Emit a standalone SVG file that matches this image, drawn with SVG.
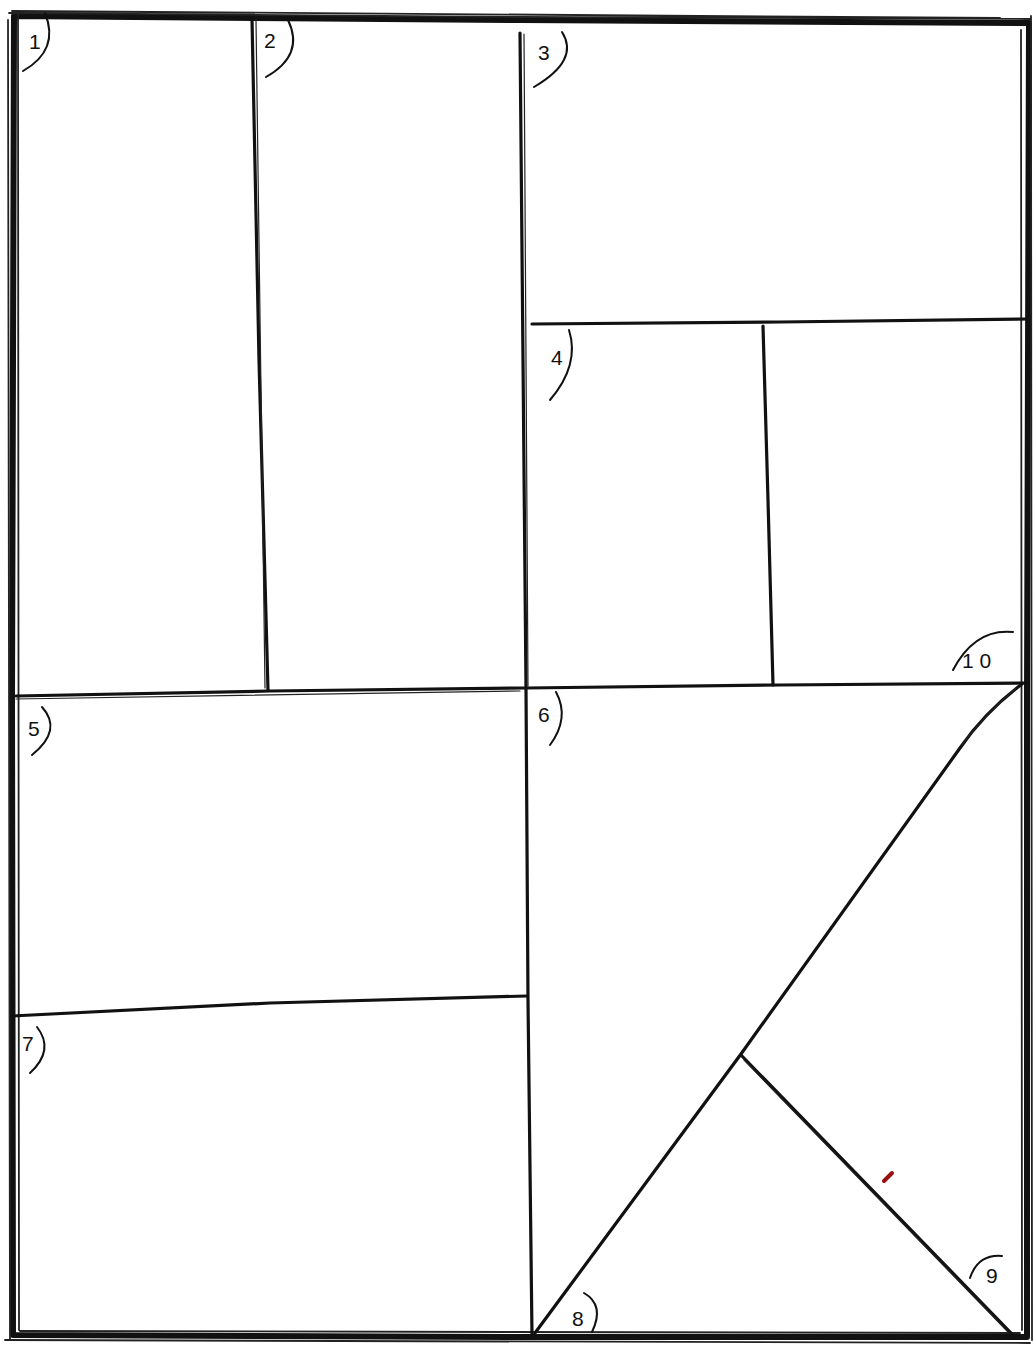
<svg xmlns="http://www.w3.org/2000/svg" width="1034" height="1346" viewBox="0 0 1034 1346">
<style>
.frame{fill:none;stroke:#111;stroke-width:6;stroke-linejoin:round;stroke-linecap:round}
.frame2{fill:none;stroke:#222;stroke-width:1.8;stroke-linecap:round}
.div{fill:none;stroke:#111;stroke-width:3.2;stroke-linecap:round}
.div2{fill:none;stroke:#222;stroke-width:1.2;stroke-linecap:round}
.arc{fill:none;stroke:#111;stroke-width:2;stroke-linecap:round}
.num{font-family:"Liberation Sans",Arial,sans-serif;font-size:21px;fill:#111}
</style>
<rect width="1034" height="1346" fill="#fff"/>
<g id="frame">
<path class="frame" d="M14,16 L520,20 L1029,23 L1027,700 L1027,1337 L520,1337 L13,1335 L12,700 Z"/>
<path class="frame2" d="M9,13 L520,17 L1031,19 M18,12 L19,1330 M8,20 L10,1340 M1031,16 L1032,1340 M1021,30 L1022,1330 M5,1340 L1030,1343 M20,1331 L1020,1333 M12,11 L1000,18"/>
</g>
<g id="dividers">
<path class="div" d="M252,19 L259,360 L268,690"/>
<path class="div2" d="M256,20 L265,688"/>
<path class="div" d="M520,33 L523,360 L526,688 L528,1000 L532,1336"/>
<path class="div2" d="M524,34 L528,686"/>
<path class="div" d="M532,324 L780,322 L1028,319"/>
<path class="div" d="M763,326 L768,500 L773,685"/>
<path class="div" d="M16,696 L270,691 L526,688 L780,685 L1025,683"/>
<path class="div2" d="M16,699 L520,691"/>
<path class="div" d="M12,1016 L270,1003 L527,996"/>
<path class="div" d="M1022,684 Q985,712 960,748 L741,1054 L535,1333"/>
<path class="div2" d="M1016,688 Q980,720 962,745"/>
<path class="div" d="M741,1055 L1012,1334"/>
<path class="div2" d="M744,1060 L1008,1332"/>
<path d="M884,1181 L892,1173" stroke="#9a1010" stroke-width="4" stroke-linecap="round"/>
</g>
<g id="labels">
<g id="p1"><text class="num" x="29" y="49">1</text><path class="arc" d="M45,13 Q60,50 23,71"/></g>
<g id="p2"><text class="num" x="264" y="48">2</text><path class="arc" d="M288,20 Q305,55 266,77"/></g>
<g id="p3"><text class="num" x="538" y="60">3</text><path class="arc" d="M562,32 Q580,60 534,87"/></g>
<g id="p4"><text class="num" x="551" y="365">4</text><path class="arc" d="M569,330 Q580,365 550,400"/></g>
<g id="p5"><text class="num" x="28" y="736">5</text><path class="arc" d="M42,707 Q63,730 32,755"/></g>
<g id="p6"><text class="num" x="538" y="722">6</text><path class="arc" d="M556,692 Q570,718 550,745"/></g>
<g id="p7"><text class="num" x="22" y="1051">7</text><path class="arc" d="M37,1027 Q55,1050 30,1073"/></g>
<g id="p8"><text class="num" x="572" y="1326">8</text><path class="arc" d="M584,1293 Q605,1305 592,1332"/></g>
<g id="p9"><text class="num" x="986" y="1283">9</text><path class="arc" d="M970,1278 Q978,1254 1002,1256"/></g>
<g id="p10"><text class="num" x="962" y="668">1 0</text><path class="arc" d="M953,670 Q975,628 1013,632"/></g>
</g>
</svg>
